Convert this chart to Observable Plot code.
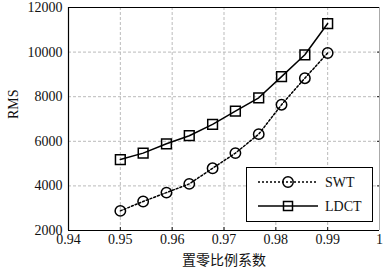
<!DOCTYPE html>
<html><head><meta charset="utf-8">
<script src="https://cdn.jsdelivr.net/npm/d3@7"></script>
<script src="https://cdn.jsdelivr.net/npm/@observablehq/plot@0.6"></script>
<style>body{margin:0;background:#fff}</style>
</head><body><div id="chart"></div>
<script>
const xs = [0.95, 0.9544, 0.9589, 0.9633, 0.9678, 0.9722, 0.9767, 0.9811, 0.9856, 0.99];
const swt = [2880, 3300, 3700, 4090, 4790, 5470, 6320, 7640, 8830, 9960];
const ldct = [5180, 5470, 5890, 6250, 6760, 7350, 7950, 8900, 9880, 11280];
const xTicks = [0.94, 0.95, 0.96, 0.97, 0.98, 0.99, 1];
const yTicks = [2000, 4000, 6000, 8000, 10000, 12000];
const seriesNames = ["SWT", "LDCT"];
const xLabel = "置零比例系数";
const yLabel = "RMS";

const dSWT = xs.map((x, i) => ({x, y: swt[i]}));
const dLDCT = xs.map((x, i) => ({x, y: ldct[i]}));

const serif = "Liberation Serif";
const plot = Plot.plot({
  width: 392, height: 274,
  marginLeft: 68, marginRight: 13, marginTop: 7, marginBottom: 44,
  style: {fontSize: "14px", fontFamily: serif, background: "#fff", color: "#111"},
  x: {domain: [0.94, 1]},
  y: {domain: [2000, 12000]},
  marks: [
    Plot.gridX(xTicks.slice(1, -1), {stroke: "#bbb", strokeOpacity: 1, strokeDasharray: "3,2"}),
    Plot.gridY(yTicks.slice(1, -1), {stroke: "#bbb", strokeOpacity: 1, strokeDasharray: "3,2"}),
    Plot.axisX(xTicks, {tickSize: 0, tickPadding: 4, tickFormat: d => String(+d.toFixed(2)), label: null, fontSize: 14, fontFamily: serif}),
    Plot.axisY(yTicks, {tickSize: 0, tickPadding: 6, tickFormat: d3.format("d"), label: null, fontSize: 14, fontFamily: serif}),
    Plot.axisY(yTicks.slice(1,-1), {anchor: "right", tickSize: 3, tickPadding: 0, tickFormat: () => "", label: null, dx: -3}),
    Plot.axisX(xTicks.slice(1,-1), {anchor: "bottom", tickSize: 3, tickPadding: 0, tickFormat: () => "", label: null, dy: -3}),
    Plot.ruleX([1], {stroke: "#aaa"}),
    Plot.ruleY([12000], {stroke: "#000"}),
    Plot.ruleX([0.94], {stroke: "#000", strokeWidth: 1.2}),
    Plot.ruleY([2000], {stroke: "#000", strokeWidth: 1.2}),
    Plot.line(dSWT, {x: "x", y: "y", stroke: "#000", strokeWidth: 1.5, strokeDasharray: "2,2"}),
    Plot.line(dLDCT, {x: "x", y: "y", stroke: "#000", strokeWidth: 1.5}),
    Plot.dot(dSWT, {x: "x", y: "y", r: 5.2, stroke: "#000", strokeWidth: 1.5, fill: "none"}),
    Plot.dot(dLDCT, {x: "x", y: "y", r: 5.5, symbol: "square", stroke: "#000", strokeWidth: 1.5, fill: "none"}),
    Plot.text([xLabel], {frameAnchor: "bottom", lineAnchor: "middle", dy: 30, fontFamily: "Noto Sans CJK SC", fontSize: 14, fill: "#111"}),
    Plot.text([yLabel], {frameAnchor: "left", dx: -55, rotate: -90, fontSize: 14, fontFamily: serif, fill: "#111"})
  ]
});
document.getElementById("chart").appendChild(plot);

// legend
const svg = d3.select(plot);
const g = svg.append("g").attr("font-size", 14).attr("font-family", serif).attr("text-anchor", "start");
g.append("rect").attr("x", 246.5).attr("y", 167.5).attr("width", 126).attr("height", 54)
  .attr("fill", "#fff").attr("stroke", "#000").attr("stroke-width", 1);
const entries = [
  {name: seriesNames[0], y: 182, dash: "2,2", sym: "circle"},
  {name: seriesNames[1], y: 206, dash: null, sym: "square"}
];
entries.forEach(e => {
  g.append("line").attr("x1", 258).attr("x2", 318).attr("y1", e.y).attr("y2", e.y)
    .attr("stroke", "#000").attr("stroke-width", 1.5).attr("stroke-dasharray", e.dash);
  if (e.sym === "circle") g.append("circle").attr("cx", 288).attr("cy", e.y).attr("r", 5.2)
    .attr("fill", "none").attr("stroke", "#000").attr("stroke-width", 1.5);
  else g.append("rect").attr("x", 283.5).attr("y", e.y - 4.5).attr("width", 9).attr("height", 9)
    .attr("fill", "none").attr("stroke", "#000").attr("stroke-width", 1.5);
  g.append("text").attr("x", 325).attr("y", e.y).attr("dy", "0.35em").attr("fill", "#111")
    .attr("text-anchor", "start").text(e.name);
});
</script>
</body></html>
